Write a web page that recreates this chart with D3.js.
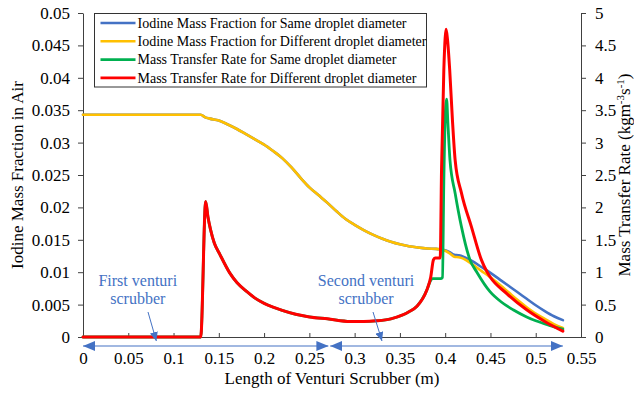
<!DOCTYPE html>
<html>
<head>
<meta charset="utf-8">
<script src="https://cdn.jsdelivr.net/npm/d3@7"></script>
<style>
  html, body { margin: 0; padding: 0; background: #fff; }
  svg { display: block; }
  text { font-family: "Liberation Serif", "Times New Roman", serif; }
</style>
</head>
<body>
<svg id="chart" width="634" height="393"></svg>
<script>
// ── Data ──
var fracX = [0, 0.13, 0.135, 0.14, 0.15, 0.16, 0.17, 0.18, 0.19, 0.20, 0.21, 0.22, 0.23, 0.24, 0.25,
  0.26, 0.27, 0.28, 0.29, 0.30, 0.31, 0.32, 0.33, 0.34, 0.35, 0.36, 0.37, 0.38, 0.39, 0.395,
  0.40, 0.405, 0.41, 0.415, 0.42, 0.43, 0.44, 0.45, 0.46, 0.47, 0.48, 0.49, 0.50, 0.51, 0.52, 0.53];
var fracSame = [0.0343, 0.0343, 0.0339, 0.0337, 0.0334, 0.0328, 0.0321, 0.0313, 0.0305, 0.0297, 0.0287, 0.0276, 0.0262, 0.0246, 0.0231,
  0.0219, 0.0207, 0.0194, 0.0182, 0.0173, 0.0165, 0.0158, 0.0152, 0.0147, 0.0143, 0.0140, 0.0138, 0.01365, 0.0136, 0.0135,
  0.0134, 0.0131, 0.0127, 0.0126, 0.0124, 0.0117, 0.0108, 0.0099, 0.0089, 0.0079, 0.0069, 0.0059, 0.0049, 0.0040, 0.0032, 0.0026];
var fracDiff = [0.0343, 0.0343, 0.0339, 0.0337, 0.0334, 0.0328, 0.0321, 0.0313, 0.0305, 0.0297, 0.0287, 0.0276, 0.0262, 0.0246, 0.0231,
  0.0219, 0.0207, 0.0194, 0.0182, 0.0173, 0.0165, 0.0158, 0.0152, 0.0147, 0.0143, 0.0140, 0.0138, 0.01365, 0.0136, 0.0135,
  0.0133, 0.0129, 0.0124, 0.0123, 0.0121, 0.0112, 0.0102, 0.0092, 0.0081, 0.0069, 0.0057, 0.0046, 0.0036, 0.0028, 0.0020, 0.0014];

var rateSameX = [0, 0.13, 0.1355, 0.138, 0.141, 0.145, 0.151, 0.162, 0.17, 0.181, 0.19, 0.20, 0.21, 0.22, 0.235, 0.25,
  0.27, 0.295, 0.31, 0.324, 0.34, 0.353, 0.36, 0.3685, 0.3796, 0.3835, 0.386, 0.395, 0.397, 0.3985, 0.4005, 0.4016,
  0.403, 0.4053, 0.411, 0.418, 0.4274, 0.435, 0.4495, 0.462, 0.475, 0.49, 0.50, 0.515, 0.53];
var rateSame = [0, 0, 2.09, 1.85, 1.65, 1.45, 1.28, 0.99, 0.84, 0.70, 0.60, 0.52, 0.46, 0.41, 0.35, 0.31,
  0.28, 0.24, 0.24, 0.25, 0.28, 0.34, 0.39, 0.47, 0.72, 0.86, 0.90, 0.90, 0.92, 2.4, 3.55, 3.67,
  3.3, 2.73, 2.22, 1.70, 1.19, 1.0, 0.70, 0.54, 0.42, 0.31, 0.25, 0.18, 0.12];

var rateDiffX = [0, 0.13, 0.1355, 0.138, 0.141, 0.145, 0.151, 0.162, 0.17, 0.181, 0.19, 0.20, 0.21, 0.22, 0.235, 0.25,
  0.27, 0.295, 0.31, 0.324, 0.34, 0.353, 0.36, 0.3685, 0.3796, 0.384, 0.387, 0.3888, 0.3945, 0.396, 0.3985, 0.4,
  0.401, 0.4025, 0.405, 0.408, 0.411, 0.418, 0.429, 0.44, 0.446, 0.4495, 0.468, 0.49, 0.51, 0.53];
var rateDiff = [0, 0, 2.09, 1.85, 1.65, 1.45, 1.28, 0.99, 0.84, 0.70, 0.60, 0.52, 0.46, 0.41, 0.35, 0.31,
  0.28, 0.24, 0.24, 0.25, 0.28, 0.34, 0.39, 0.47, 0.72, 0.92, 1.19, 1.22, 1.22, 2.6, 4.12, 4.62,
  4.75, 4.6, 4.12, 3.35, 2.73, 2.22, 1.70, 1.19, 1.01, 0.93, 0.67, 0.42, 0.24, 0.09];

var xTicks = [0, 0.05, 0.1, 0.15, 0.2, 0.25, 0.3, 0.35, 0.4, 0.45, 0.5, 0.55];
var leftTicks = [0, 0.005, 0.01, 0.015, 0.02, 0.025, 0.03, 0.035, 0.04, 0.045, 0.05];
var rightTicks = [0, 0.5, 1, 1.5, 2, 2.5, 3, 3.5, 4, 4.5, 5];

var seriesNames = [
  'Iodine Mass Fraction for Same droplet diameter',
  'Iodine Mass Fraction for Different droplet diameter',
  'Mass Transfer Rate for Same droplet diameter',
  'Mass Transfer Rate for Different droplet diameter'
];
var seriesColors = ['#4472C4', '#FFC000', '#00B050', '#FF0000'];

// spans of the two scrubbers (m) and the label anchors
var scrubbers = [
  { lines: ['First venturi', 'scrubber'], from: 0, to: 0.271, labelX: 0.0605, tipX: 0.081, tailX: 0.0718 },
  { lines: ['Second venturi', 'scrubber'], from: 0.273, to: 0.53, labelX: 0.3126, tipX: 0.3302, tailX: 0.3203 }
];

(function () {
  'use strict';
  var svg = d3.select('#chart');
  var W = 634, H = 393;
  var m = { left: 83, right: 53, top: 13, bottom: 56 };
  var FONT = '"Liberation Serif", "Times New Roman", serif';
  var AXIS = '#404040';
  var NOTE = '#4472C4';

  var x = d3.scaleLinear().domain([0, 0.55]).range([m.left, W - m.right]);
  var yL = d3.scaleLinear().domain([0, 0.05]).range([H - m.bottom, m.top]);
  var yR = d3.scaleLinear().domain([0, 5]).range([H - m.bottom, m.top]);

  svg.append('rect').attr('width', W).attr('height', H).attr('fill', '#fff');

  var defs = svg.append('defs');
  defs.append('marker').attr('id', 'headBig')
    .attr('viewBox', '0 0 12 10').attr('refX', 12).attr('refY', 5)
    .attr('markerUnits', 'userSpaceOnUse').attr('markerWidth', 12).attr('markerHeight', 10)
    .attr('orient', 'auto-start-reverse')
    .append('path').attr('d', 'M0,0L12,5L0,10Z').attr('fill', NOTE);
  defs.append('marker').attr('id', 'headSmall')
    .attr('viewBox', '0 0 9 8').attr('refX', 9).attr('refY', 4)
    .attr('markerUnits', 'userSpaceOnUse').attr('markerWidth', 9).attr('markerHeight', 8)
    .attr('orient', 'auto')
    .append('path').attr('d', 'M0,0L9,4L0,8Z').attr('fill', NOTE);

  // ── Axes ──
  function styleAxis(g) {
    g.attr('font-family', null);
    g.select('.domain').attr('stroke', AXIS).attr('stroke-width', 1);
    g.selectAll('.tick line').attr('stroke', AXIS);
    g.selectAll('.tick text').attr('fill', '#000').style('font-family', FONT).style('font-size', '17px');
  }

  svg.append('g').attr('transform', 'translate(0,' + (H - m.bottom) + ')')
    .call(d3.axisBottom(x).tickValues(xTicks).tickSizeInner(-4).tickSizeOuter(0).tickPadding(15)
      .tickFormat(function (d) { return String(+d.toFixed(2)); }))
    .call(styleAxis);

  svg.append('g').attr('transform', 'translate(' + m.left + ',0)')
    .call(d3.axisLeft(yL).tickValues(leftTicks).tickSizeInner(5).tickSizeOuter(0).tickPadding(8)
      .tickFormat(function (d) { return String(+d.toFixed(3)); }))
    .call(styleAxis);

  svg.append('g').attr('transform', 'translate(' + (W - m.right) + ',0)')
    .call(d3.axisRight(yR).tickValues(rightTicks).tickSizeInner(5).tickSizeOuter(0).tickPadding(9)
      .tickFormat(function (d) { return String(+d.toFixed(1)); }))
    .call(styleAxis);

  svg.append('text').attr('x', (m.left + W - m.right) / 2).attr('y', 384)
    .attr('text-anchor', 'middle').attr('font-size', 17).text('Length of Venturi Scrubber (m)');

  svg.append('text').attr('transform', 'translate(23,' + ((m.top + H - m.bottom) / 2) + ') rotate(-90)')
    .attr('text-anchor', 'middle').attr('font-size', 17).text('Iodine Mass Fraction in Air');

  var rt = svg.append('text').attr('transform', 'translate(630,' + ((m.top + H - m.bottom) / 2) + ') rotate(-90)')
    .attr('text-anchor', 'middle').attr('font-size', 17);
  rt.append('tspan').text('Mass Transfer Rate (kgm');
  rt.append('tspan').attr('font-size', 11).attr('dy', -6).text('-3');
  rt.append('tspan').attr('dy', 6).text('s');
  rt.append('tspan').attr('font-size', 11).attr('dy', -6).text('-1');
  rt.append('tspan').attr('dy', 6).text(')');

  // ── Series ──
  function zipXY(xs, ys) { return xs.map(function (v, i) { return [v, ys[i]]; }); }
  var series = [
    { pts: zipXY(fracX, fracSame), y: yL, width: 2.6 },
    { pts: zipXY(fracX, fracDiff), y: yL, width: 2.6 },
    { pts: zipXY(rateSameX, rateSame), y: yR, width: 2.8 },
    { pts: zipXY(rateDiffX, rateDiff), y: yR, width: 3 }
  ];

  series.forEach(function (s, i) {
    var line = d3.line().curve(d3.curveMonotoneX)
      .x(function (d) { return x(d[0]); })
      .y(function (d) { return s.y(d[1]); });
    svg.append('path').datum(s.pts)
      .attr('d', line).attr('fill', 'none')
      .attr('stroke', seriesColors[i]).attr('stroke-width', s.width)
      .attr('stroke-linejoin', 'round').attr('stroke-linecap', 'round');
  });

  // ── Scrubber annotations ──
  var arrowY = H - m.bottom + 9;
  scrubbers.forEach(function (s) {
    svg.append('line')
      .attr('x1', x(s.from)).attr('x2', x(s.to)).attr('y1', arrowY).attr('y2', arrowY)
      .attr('stroke', NOTE).attr('stroke-width', 1.2)
      .attr('marker-start', 'url(#headBig)').attr('marker-end', 'url(#headBig)');
    s.lines.forEach(function (t, j) {
      svg.append('text').attr('x', x(s.labelX)).attr('y', 286 + j * 18)
        .attr('text-anchor', 'middle').attr('font-size', 16).attr('fill', NOTE).text(t);
    });
    svg.append('line')
      .attr('x1', x(s.tailX)).attr('y1', 312).attr('x2', x(s.tipX)).attr('y2', arrowY - 5)
      .attr('stroke', NOTE).attr('stroke-width', 1)
      .attr('marker-end', 'url(#headSmall)');
  });

  // ── Legend ──
  var lg = svg.append('g').attr('transform', 'translate(94.5,13.5)');
  lg.append('rect').attr('width', 332).attr('height', 73.5)
    .attr('fill', '#fff').attr('stroke', '#333').attr('stroke-width', 1);
  seriesNames.forEach(function (name, i) {
    var cy = 9.5 + i * 18.3;
    lg.append('line').attr('x1', 6).attr('x2', 41).attr('y1', cy).attr('y2', cy)
      .attr('stroke', seriesColors[i]).attr('stroke-width', 2.6);
    lg.append('text').attr('x', 43).attr('y', cy + 4.8)
      .attr('font-size', 14).attr('fill', '#000').text(name);
  });
})();
</script>
</body>
</html>
